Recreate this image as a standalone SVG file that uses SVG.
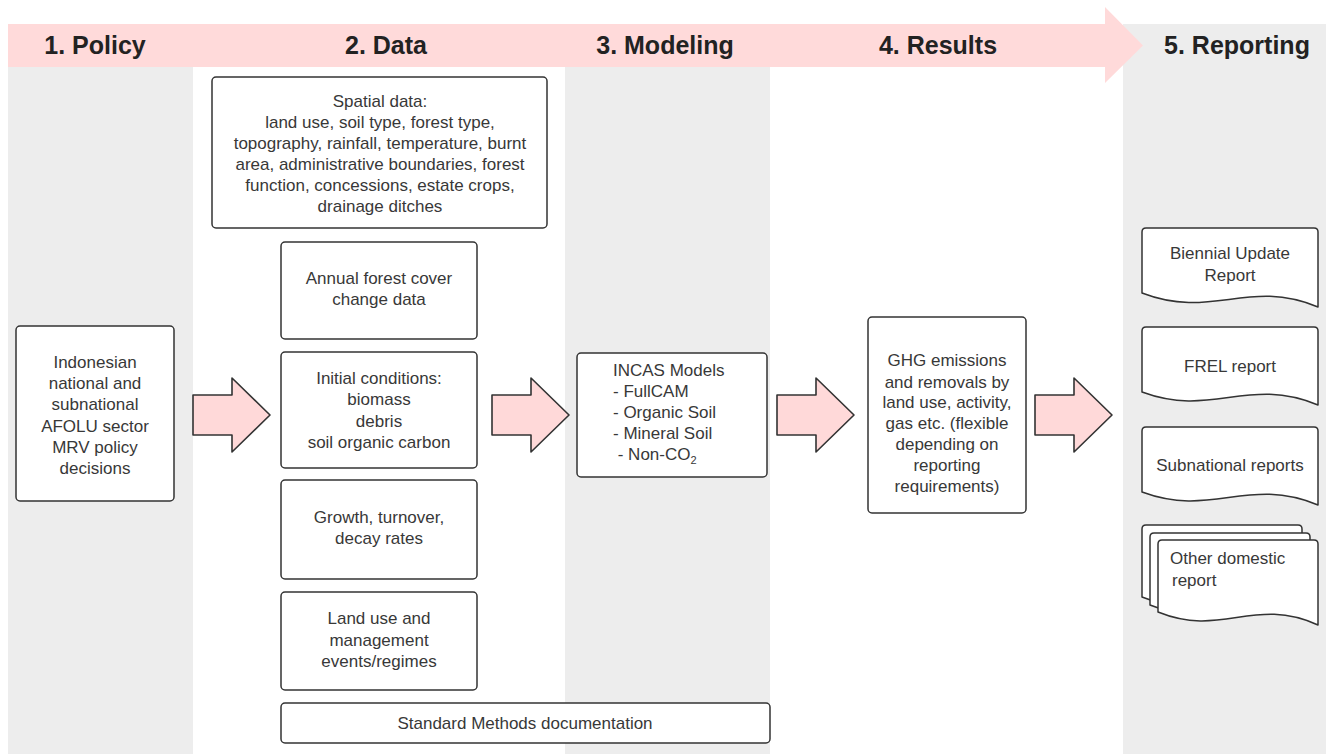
<svg xmlns="http://www.w3.org/2000/svg" xmlns:xlink="http://www.w3.org/1999/xlink" width="1326" height="754" viewBox="0 0 1326 754">
  <style>
    .bg { fill: #ededed; }
    .band { fill: #ffdada; }
    .box { fill: #ffffff; stroke: #333333; stroke-width: 1.5; }
    .doc { fill: #ffffff; stroke: #333333; stroke-width: 1.5; stroke-linejoin: round; }
    .blk { fill: #ffd9d9; stroke: #333333; stroke-width: 1.6; stroke-linejoin: round; }
    .h { font-family: "Liberation Sans", Arial, sans-serif; font-weight: bold; font-size: 25px; fill: #222222; text-anchor: middle; }
    .t { font-family: "Liberation Sans", Arial, sans-serif; font-size: 17px; fill: #383838; text-anchor: middle; }
    .l { text-anchor: start; }
  </style>
  <defs>
    <path id="blkArrow" d="M0,-20 H39 V-37 L77,0 L39,37 V20 H0 Z"/>
  </defs>

  <rect width="1326" height="754" fill="#ffffff"/>
  <!-- column backgrounds -->
  <g id="columns">
    <rect class="bg" x="8" y="67" width="185" height="687"/>
    <rect class="bg" x="565" y="67" width="205" height="687"/>
    <rect class="bg" x="1123" y="24" width="203" height="730"/>
  </g>

  <!-- phase banner -->
  <g id="banner">
    <path class="band" d="M8,24 H1105 V7 L1143,45.5 L1105,83 V67 H8 Z"/>
    <text class="h" x="95" y="54">1. Policy</text>
    <text class="h" x="386" y="54">2. Data</text>
    <text class="h" x="665" y="54">3. Modeling</text>
    <text class="h" x="938" y="54">4. Results</text>
    <text class="h" x="1237" y="54">5. Reporting</text>
  </g>

  <!-- connectors -->
  <g id="connectors">
    <use xlink:href="#blkArrow" href="#blkArrow" class="blk" transform="translate(193,415)"/>
    <use xlink:href="#blkArrow" href="#blkArrow" class="blk" transform="translate(492,415)"/>
    <use xlink:href="#blkArrow" href="#blkArrow" class="blk" transform="translate(777,415)"/>
    <use xlink:href="#blkArrow" href="#blkArrow" class="blk" transform="translate(1035,415)"/>
  </g>

  <g id="policy">
    <rect class="box" x="16" y="326" width="158" height="175" rx="4"/>
    <text class="t" x="95" y="368">Indonesian</text>
    <text class="t" x="95" y="389">national and</text>
    <text class="t" x="95" y="410">subnational</text>
    <text class="t" x="95" y="432">AFOLU sector</text>
    <text class="t" x="95" y="453">MRV policy</text>
    <text class="t" x="95" y="474">decisions</text>
  </g>

  <g id="spatial">
    <rect class="box" x="212" y="77" width="335" height="151" rx="4"/>
    <text class="t" x="380" y="107">Spatial data:</text>
    <text class="t" x="380" y="128">land use, soil type, forest type,</text>
    <text class="t" x="380" y="149">topography, rainfall, temperature, burnt</text>
    <text class="t" x="380" y="170">area, administrative boundaries, forest</text>
    <text class="t" x="380" y="191">function, concessions, estate crops,</text>
    <text class="t" x="380" y="212">drainage ditches</text>
  </g>

  <g id="annual">
    <rect class="box" x="281" y="242" width="196" height="97" rx="4"/>
    <text class="t" x="379" y="284">Annual forest cover</text>
    <text class="t" x="379" y="305">change data</text>
  </g>

  <g id="initial">
    <rect class="box" x="281" y="352" width="196" height="116" rx="4"/>
    <text class="t" x="379" y="384">Initial conditions:</text>
    <text class="t" x="379" y="405">biomass</text>
    <text class="t" x="379" y="427">debris</text>
    <text class="t" x="379" y="448">soil organic carbon</text>
  </g>

  <g id="growth">
    <rect class="box" x="281" y="480" width="196" height="99" rx="4"/>
    <text class="t" x="379" y="523">Growth, turnover,</text>
    <text class="t" x="379" y="544">decay rates</text>
  </g>

  <g id="landuse">
    <rect class="box" x="281" y="592" width="196" height="98" rx="4"/>
    <text class="t" x="379" y="624">Land use and</text>
    <text class="t" x="379" y="646">management</text>
    <text class="t" x="379" y="667">events/regimes</text>
  </g>

  <g id="standard">
    <rect class="box" x="281" y="703" width="489" height="40" rx="4"/>
    <text class="t" x="525" y="729">Standard Methods documentation</text>
  </g>

  <g id="incas">
    <rect class="box" x="577" y="353" width="190" height="124" rx="4"/>
    <text class="t l" x="613" y="376">INCAS Models</text>
    <text class="t l" x="613" y="397"> - FullCAM</text>
    <text class="t l" x="613" y="418"> - Organic Soil</text>
    <text class="t l" x="613" y="439"> - Mineral Soil</text>
    <text class="t l" x="613" y="460" xml:space="preserve"> - Non-CO<tspan font-size="11" dy="4">2</tspan></text>
  </g>

  <g id="ghg">
    <rect class="box" x="868" y="317" width="158" height="196" rx="4"/>
    <text class="t" x="947" y="366">GHG emissions</text>
    <text class="t" x="947" y="388">and removals by</text>
    <text class="t" x="947" y="408">land use, activity,</text>
    <text class="t" x="947" y="429">gas etc. (flexible</text>
    <text class="t" x="947" y="450">depending on</text>
    <text class="t" x="947" y="471">reporting</text>
    <text class="t" x="947" y="492">requirements)</text>
  </g>

  <g id="bur">
    <path class="doc" d="M1142,232 Q1142,228 1146,228 H1314 Q1318,228 1318,232 V307 C1247.6,278 1212.4,320 1142,293 Z"/>
    <text class="t" x="1230" y="259">Biennial Update</text>
    <text class="t" x="1230" y="281">Report</text>
  </g>

  <g id="frel">
    <path class="doc" d="M1142,331 Q1142,327 1146,327 H1314 Q1318,327 1318,331 V405 C1247.6,376 1212.4,418 1142,392 Z"/>
    <text class="t" x="1230" y="372">FREL report</text>
  </g>

  <g id="subnational">
    <path class="doc" d="M1142,431 Q1142,427 1146,427 H1314 Q1318,427 1318,431 V505 C1247.6,476 1212.4,518 1142,492 Z"/>
    <text class="t" x="1230" y="471">Subnational reports</text>
  </g>

  <g id="otherdomestic">
    <path class="doc" d="M1142,529 Q1142,525 1146,525 H1298 Q1302,525 1302,529 V610 C1238,581 1206,623 1142,597 Z"/>
    <path class="doc" d="M1150,537 Q1150,533 1154,533 H1306 Q1310,533 1310,537 V618 C1246,589 1214,631 1150,605 Z"/>
    <path class="doc" d="M1158,544 Q1158,540 1162,540 H1314 Q1318,540 1318,544 V625 C1254,596 1222,638 1158,612 Z"/>
    <text class="t l" x="1170" y="564">Other domestic</text>
    <text class="t l" x="1172" y="586">report</text>
  </g>
</svg>
